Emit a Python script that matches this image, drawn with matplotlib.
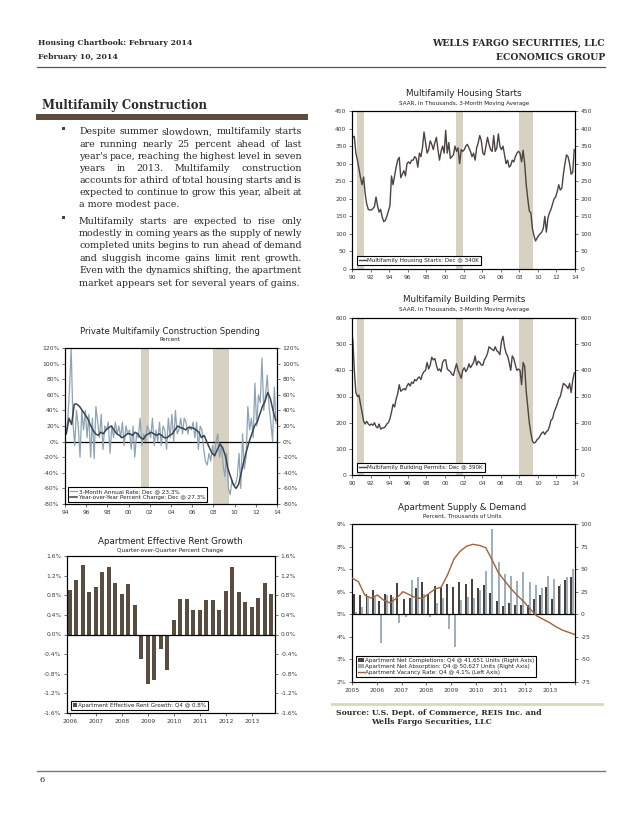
import matplotlib
matplotlib.use("Agg")
import matplotlib.pyplot as plt
from matplotlib.patches import Patch, Rectangle
from matplotlib.lines import Line2D

# ---------------- data ----------------
# Multifamily housing starts, SAAR thousands, bi-monthly readings 1990-2013
starts_vals = [
    375, 378, 330, 310, 285, 260,
    240, 262, 215, 185, 170, 168,
    168, 172, 178, 205, 180, 162,
    170, 148, 135, 138, 150, 165,
    180, 265, 240, 265, 290, 310,
    318, 260, 270, 280, 265, 300,
    305, 300, 310, 310, 320, 315,
    290, 330, 320, 345, 390, 360,
    330, 340, 365, 355, 340, 360,
    375, 340, 310, 335, 350, 330,
    395, 330, 360, 315, 320, 325,
    350, 335, 345, 300, 340, 335,
    340, 350, 355, 345, 335, 320,
    330, 310, 345, 360, 380, 365,
    330, 325, 350, 375, 355, 340,
    335, 380, 335, 345, 385, 350,
    340, 350, 325, 300, 310, 290,
    295, 310, 305, 320, 330, 335,
    330, 305, 338, 300, 240, 200,
    165, 160, 115, 95, 80, 88,
    95, 100, 105, 115, 150, 105,
    145, 160, 170, 185, 200, 205,
    220, 240, 225, 230, 270, 300,
    325, 320, 300, 270, 275, 340,
]
# Multifamily building permits, SAAR thousands, bi-monthly readings 1990-2013
permits_vals = [
    520, 400, 315, 300, 305, 270,
    240, 205, 195, 205, 195, 190,
    195, 190, 200, 185, 180, 195,
    175, 180, 180, 185, 195, 200,
    215, 240, 270, 260, 290, 310,
    345, 320, 325, 330, 325, 340,
    350, 340, 355, 350, 365, 360,
    370, 375, 365, 385, 395, 400,
    430, 405, 420, 450, 440, 445,
    420, 400, 405, 395, 430, 440,
    440, 405, 400, 395, 385, 380,
    405, 425, 400, 385, 370, 400,
    410, 395, 405, 425, 410, 420,
    430, 455, 420, 435, 430, 420,
    420, 440, 450, 465, 490, 485,
    480, 475, 490, 475, 470, 460,
    510, 530, 490, 465, 455, 430,
    400, 455, 445, 420, 400, 405,
    400, 345, 430, 415, 320, 260,
    200, 160, 130, 122, 125, 135,
    140, 150, 160, 165, 155, 165,
    170, 185, 210, 215, 240, 255,
    270, 290, 300, 325, 350, 345,
    340, 330, 350, 315, 360, 390,
]
# Private multifamily construction spending, 3-month annual rate (%), bi-monthly 1994-2013
spend_3m = [
    10, 25, 65, 120, 25, -5,
    40, 20, -20, 40, 15, 40,
    5, 35, -20, 30, -22, 45,
    25, 5, 35, -10, 20, 15,
    25, -15, 20, 5, 25, 10,
    20, 5, 25, -5, 20, 10,
    15, -10, 20, -20, 10, 5,
    30, -5, 10, 0, 20, 15,
    5, 30, -5, 15, 0, 25,
    -5, 20, 15, -10, 30, 5,
    35, 0, 40, 10, 15, 30,
    10, 30, 25, 10, 20, 15,
    25, 5, 25, -10, 20, 15,
    -10, -25, -30, -15, -25, -5,
    -20, 0, 10, -20, -5, -30,
    -45, -15, -60, -68, -50, -55,
    -55, -45, -15, -60, 10, -35,
    -20, 45, 15, 30, 5, 75,
    20, 60, 50, 107, 40, 60,
    85, 45, 25, 0, 70, 23.3,
]
# Year-over-year percent change (%), quarterly 1994-2013
spend_yoy = [
    10, 30, 22, 48,
    48, 45, 40, 35,
    30, 22, 15, 10,
    8, 12, 10, 15,
    18, 20, 15, 10,
    8, 5, 7, 10,
    10, 8, 12, 10,
    5, 3, 8, 10,
    12, 10, 8, 10,
    8, 5, 5, 8,
    10, 15, 20, 18,
    17, 15, 18, 18,
    17, 15, 12, 5,
    8, 0, -8, -15,
    -18, -10, -3, -8,
    -18, -35, -45, -55,
    -60, -55, -40, -25,
    -12, 0, 10, 20,
    25, 35, 45, 52,
    63, 55, 40, 27.3,
]
# Apartment effective rent growth, q/q %, 2006Q1-2013Q4
rent_growth = [
    0.90, 1.12, 1.42, 0.87,
    0.97, 1.28, 1.37, 1.04,
    0.83, 1.02, 0.60, -0.50,
    -1.00, -0.92, -0.30, -0.72,
    0.30, 0.72, 0.72, 0.50,
    0.50, 0.70, 0.70, 0.49,
    0.89, 1.37, 0.87, 0.66,
    0.57, 0.75, 1.04, 0.83,
]
rent_year_labels = ["2006", "2007", "2008", "2009", "2010", "2011", "2012", "2013"]
# Apartment supply & demand, 2005Q1-2013Q4
completions = [
    22, 21, 22, 27,
    15, 23, 21, 35,
    17, 18, 29, 36,
    23, 31, 30, 34,
    30, 36, 34, 39,
    29, 32, 24, 15,
    9, 12, 10, 10,
    10, 17, 21, 30,
    17, 31, 37.5, 41.651,
]
absorption = [
    2, 8, 19, 19,
    -32, 21, 19, -10,
    -3, 38, 41, 23,
    -3, 13, 18, -16,
    -36, 16, 19, 18,
    27, 48, 95, 58,
    45, 42, 37, 47,
    36, 32, 29.5, 42,
    39, 34, 41, 50.627,
]
vacancy = [
    6.60, 6.45, 5.85, 5.72,
    5.85, 5.62, 5.50, 5.72,
    6.00, 5.87, 5.73, 5.70,
    5.90, 6.12, 6.20, 6.75,
    7.45, 7.80, 8.02, 8.10,
    8.05, 7.95, 7.40, 6.83,
    6.47, 6.12, 5.82, 5.55,
    5.22, 4.93, 4.78, 4.63,
    4.45, 4.30, 4.20, 4.10,
]
supply_year_labels = ["2005", "2006", "2007", "2008", "2009", "2010", "2011", "2012", "2013"]
recessions = [(1990.5, 1991.25), (2001.17, 2001.92), (2007.92, 2009.5)]

para1 = [
    "Despite summer slowdown, multifamily starts",
    "are running nearly 25 percent ahead of last",
    "year's pace, reaching the highest level in seven",
    "years in 2013. Multifamily construction",
    "accounts for a third of total housing starts and is",
    "expected to continue to grow this year, albeit at",
    "a more modest pace.",
]
para2 = [
    "Multifamily starts are expected to rise only",
    "modestly in coming years as the supply of newly",
    "completed units begins to run ahead of demand",
    "and sluggish income gains limit rent growth.",
    "Even with the dynamics shifting, the apartment",
    "market appears set for several years of gains.",
]

# ---------------- styling ----------------
LINE = "#4d4340"
REC = "#d6d1c1"
LIGHT = "#8ea3b4"
DARK = "#394350"
BAR = "#5b4c40"
COMP = "#4b413b"
ABS = "#9cb0c0"
VAC = "#a2623a"
TXT = "#2a2a2a"
TICKC = "#3a3a3a"
SERIF = "DejaVu Serif"
SANS = "DejaVu Sans"
TICK_FS = 4.3
LEG_FS = 4.1
TITLE_FS = 6.3
SUB_FS = 4.1

W, H = 638, 826
fig = plt.figure(figsize=(W / 100, H / 100), dpi=100)
plt.rcParams["font.family"] = SANS


def fx(px):
    return px / W


def fy(py):
    return 1 - py / H


def ax_at(l, t, r, b):
    return fig.add_axes([l / W, 1 - b / H, (r - l) / W, (b - t) / H])


def base_style(ax):
    for s in ax.spines.values():
        s.set_linewidth(0.8)
        s.set_color("black")
    ax.tick_params(labelsize=TICK_FS, length=2, width=0.5, direction="out",
                   colors=TICKC, pad=2)
    ax.set_facecolor("none")


def mirror_right(ax, ylim, ticks, labels):
    ax2 = ax.twinx()
    ax2.set_ylim(ylim)
    ax2.set_yticks(ticks)
    ax2.set_yticklabels(labels)
    base_style(ax2)
    return ax2


def titles(cx, ty, title, sub):
    fig.text(fx(cx), fy(ty), title, ha="center", va="center", fontsize=TITLE_FS,
             color="#222222", family=SANS)
    fig.text(fx(cx), fy(ty + 9.5), sub, ha="center", va="center", fontsize=SUB_FS,
             color="#222222", family=SANS)


def legend(ax, handles, labels, x, y, handlelength=1.3, **kw):
    leg = ax.legend(handles, labels, loc="lower left", bbox_to_anchor=(x, y),
                    fontsize=LEG_FS, frameon=True, fancybox=False, framealpha=1,
                    edgecolor="black", borderpad=0.35, handlelength=handlelength,
                    handletextpad=0.2, labelspacing=0.15, borderaxespad=0, **kw)
    leg.get_frame().set_linewidth(0.8)
    for t in leg.get_texts():
        t.set_color("#222222")
    return leg


def shade(ax):
    for a, b in recessions:
        ax.axvspan(a, b, color=REC, lw=0, zorder=0)


two_yr = list(range(1990, 2015, 2))
two_yr_lbl = ["%02d" % (y % 100) for y in two_yr]

# ---------------- Chart 1: starts ----------------
ax1 = ax_at(352, 111, 575, 269)
sx = [1990 + (i + 0.5) / 6 for i in range(len(starts_vals))]
shade(ax1)
ax1.plot(sx, starts_vals, color=LINE, lw=1.0, zorder=3)
ax1.set_xlim(1990, 2014)
ax1.set_ylim(0, 450)
yt = list(range(0, 451, 50))
ax1.set_yticks(yt)
ax1.set_yticklabels([str(v) for v in yt])
ax1.set_xticks(two_yr)
ax1.set_xticklabels(two_yr_lbl)
base_style(ax1)
mirror_right(ax1, (0, 450), yt, [str(v) for v in yt])
legend(ax1, [Line2D([], [], color=LINE, lw=1.0)],
       ["Multifamily Housing Starts: Dec @ 340K"], 0.021, 0.025)
titles(464, 94, "Multifamily Housing Starts", "SAAR, In Thousands, 3-Month Moving Average")

# ---------------- Chart 2: permits ----------------
ax2 = ax_at(352, 318, 575, 475)
px_ = [1990 + (i + 0.5) / 6 for i in range(len(permits_vals))]
shade(ax2)
ax2.plot(px_, permits_vals, color=LINE, lw=1.0, zorder=3)
ax2.set_xlim(1990, 2014)
ax2.set_ylim(0, 600)
yt2 = list(range(0, 601, 100))
ax2.set_yticks(yt2)
ax2.set_yticklabels([str(v) for v in yt2])
ax2.set_xticks(two_yr)
ax2.set_xticklabels(two_yr_lbl)
base_style(ax2)
mirror_right(ax2, (0, 600), yt2, [str(v) for v in yt2])
legend(ax2, [Line2D([], [], color=LINE, lw=1.0)],
       ["Multifamily Building Permits: Dec @ 390K"], 0.021, 0.02)
titles(464, 300, "Multifamily Building Permits", "SAAR, In Thousands, 3-Month Moving Average")

# ---------------- Chart 3: spending ----------------
ax3 = ax_at(65, 348, 277, 504)
shade(ax3)
x3m = [1994 + (i + 0.5) / 6 for i in range(len(spend_3m))]
xyy = [1994 + (i + 0.5) / 4 for i in range(len(spend_yoy))]
ax3.axhline(0, color="black", lw=0.9, zorder=2)
ax3.plot(x3m, spend_3m, color=LIGHT, lw=0.9, zorder=3)
ax3.plot(xyy, spend_yoy, color=DARK, lw=1.1, zorder=4)
ax3.set_xlim(1994, 2014)
ax3.set_ylim(-80, 120)
yt3 = list(range(-80, 121, 20))
yl3 = ["%d%%" % v for v in yt3]
ax3.set_yticks(yt3)
ax3.set_yticklabels(yl3)
t3 = list(range(1994, 2015, 2))
ax3.set_xticks(t3)
ax3.set_xticklabels(["%02d" % (y % 100) for y in t3])
base_style(ax3)
mirror_right(ax3, (-80, 120), yt3, yl3)
legend(ax3, [Line2D([], [], color=LIGHT, lw=0.9), Line2D([], [], color=DARK, lw=1.1)],
       ["3-Month Annual Rate: Dec @ 23.3%", "Year-over-Year Percent Change: Dec @ 27.3%"],
       0.014, 0.013)
fig.text(fx(170), fy(331), "Private Multifamily Construction Spending", ha="center",
         va="center", fontsize=6.1, color="#222222", family=SANS)
fig.text(fx(170), fy(339.5), "Percent", ha="center", va="center", fontsize=SUB_FS,
         color="#222222", family=SANS)

# ---------------- Chart 4: rent growth ----------------
ax4 = ax_at(67, 556, 275, 713)
xr = list(range(len(rent_growth)))
ax4.bar(xr, rent_growth, width=0.62, color=BAR, zorder=3)
ax4.axhline(0, color="black", lw=0.9, zorder=4)
ax4.set_xlim(-0.45, len(rent_growth) - 0.45)
ax4.set_ylim(-1.6, 1.6)
yt4 = [-1.6, -1.2, -0.8, -0.4, 0.0, 0.4, 0.8, 1.2, 1.6]
yl4 = ["%.1f%%" % v for v in yt4]
ax4.set_yticks(yt4)
ax4.set_yticklabels(yl4)
ax4.set_xticks(xr[::4])
ax4.set_xticklabels(rent_year_labels)
base_style(ax4)
mirror_right(ax4, (-1.6, 1.6), yt4, yl4)
legend(ax4, [Patch(facecolor=BAR)], ["Apartment Effective Rent Growth: Q4 @ 0.8%"],
       0.02, 0.02, handlelength=0.6, handleheight=0.6)
titles(170, 541, "Apartment Effective Rent Growth", "Quarter-over-Quarter Percent Change")

# ---------------- Chart 5: supply & demand ----------------
ax5 = ax_at(352, 524, 575, 682)
xq = [2005 + i / 4 for i in range(len(completions))]
ax5.bar([x + 0.085 for x in xq], completions, width=0.08, color=COMP, zorder=3)
ax5.bar([x + 0.165 for x in xq], absorption, width=0.08, color=ABS, zorder=3)
ax5.axhline(0, color="black", lw=0.9, zorder=4)
ax5.set_ylim(-75, 100)
ax5.set_xlim(2005, 2014)
yt5 = list(range(-75, 101, 25))
ax5.set_yticks(yt5)
ax5.set_yticklabels([str(v) for v in yt5])
ax5.set_xticks(list(range(2005, 2015)))
ax5.set_xticklabels(supply_year_labels + [""])
base_style(ax5)
ax5b = ax5.twinx()
ax5.yaxis.tick_right()
ax5.yaxis.set_label_position("right")
ax5b.yaxis.tick_left()
ax5b.yaxis.set_label_position("left")
xv = [2005 + i * 9 / (len(vacancy) - 1) for i in range(len(vacancy))]
ax5b.plot(xv, vacancy, color=VAC, lw=1.0, zorder=5)
ax5b.set_ylim(2, 9)
yt5b = list(range(2, 10))
ax5b.set_yticks(yt5b)
ax5b.set_yticklabels(["%d%%" % v for v in yt5b])
base_style(ax5b)
ax5b.set_xlim(2005, 2014)
legend(ax5b, [Patch(facecolor=COMP), Patch(facecolor=ABS), Line2D([], [], color=VAC, lw=1.0)],
       ["Apartment Net Completions: Q4 @ 41,651 Units (Right Axis)",
        "Apartment Net Absorption: Q4 @ 50,627 Units (Right Axis)",
        "Apartment Vacancy Rate: Q4 @ 4.1% (Left Axis)"],
       0.018, 0.032, handlelength=1.0, handleheight=0.6)
titles(462, 507, "Apartment Supply & Demand", "Percent, Thousands of Units")

# ---------------- page text ----------------
fig.text(fx(38), fy(43), "Housing Chartbook: February 2014", fontsize=5.6, weight="bold",
         family=SERIF, color=TXT, va="center")
fig.text(fx(38), fy(57), "February 10, 2014", fontsize=5.6, weight="bold",
         family=SERIF, color=TXT, va="center")
fig.text(fx(605), fy(43), "WELLS FARGO SECURITIES, LLC", fontsize=6.7, weight="bold",
         family=SERIF, color=TXT, va="center", ha="right")
fig.text(fx(605), fy(57), "ECONOMICS GROUP", fontsize=6.7, weight="bold",
         family=SERIF, color=TXT, va="center", ha="right")
fig.add_artist(Line2D([fx(37), fx(605)], [fy(67), fy(67)], color="#555555", lw=0.9))

fig.text(fx(42), fy(105), "Multifamily Construction", fontsize=8.4, weight="bold",
         family=SERIF, color=TXT, va="center")
fig.add_artist(Rectangle((fx(36), fy(120)), fx(308) - fx(36), (120 - 114.5) / H,
                         color="#5e4c3e", lw=0))

renderer = fig.canvas.get_renderer()


def put_line(text, x0, x1, ybase, justify, fs=6.8):
    if not justify:
        fig.text(fx(x0), fy(ybase), text, fontsize=fs, family=SERIF, color=TXT,
                 va="baseline", ha="left")
        return
    words = text.split(" ")
    objs = [fig.text(fx(x0), fy(ybase), w, fontsize=fs, family=SERIF, color=TXT,
                     va="baseline", ha="left") for w in words]
    widths = [o.get_window_extent(renderer=renderer).width for o in objs]
    gap = (x1 - x0 - sum(widths)) / (len(words) - 1)
    x = x0
    for o, wdt in zip(objs, widths):
        o.set_x(fx(x))
        x += wdt + gap


for para, y0, dy, by in [(para1, 134.5, 12.1, 128.3), (para2, 223.5, 12.4, 217.3)]:
    fig.add_artist(Rectangle((fx(61.5), fy(by + 1.6)), 3.2 / W, 3.2 / H,
                             color="#444444", lw=0))
    for i, line in enumerate(para):
        put_line(line, 79, 302, y0 + i * dy, justify=(i < len(para) - 1))

fig.add_artist(Line2D([fx(332), fx(602)], [fy(704), fy(704)], color="#d8d8bc", lw=2.0))
fig.text(fx(336), fy(713), "Source: U.S. Dept. of Commerce, REIS Inc. and", fontsize=5.6,
         weight="bold", family=SERIF, color=TXT, va="center")
fig.text(fx(371), fy(722.5), "Wells Fargo Securities, LLC", fontsize=5.6,
         weight="bold", family=SERIF, color=TXT, va="center")

fig.add_artist(Line2D([fx(37), fx(605)], [fy(771), fy(771)], color="#777777", lw=1.0))
fig.text(fx(40), fy(780), "6", fontsize=6, family=SERIF, color=TXT, va="center")

fig.savefig("out.png", dpi=100)
